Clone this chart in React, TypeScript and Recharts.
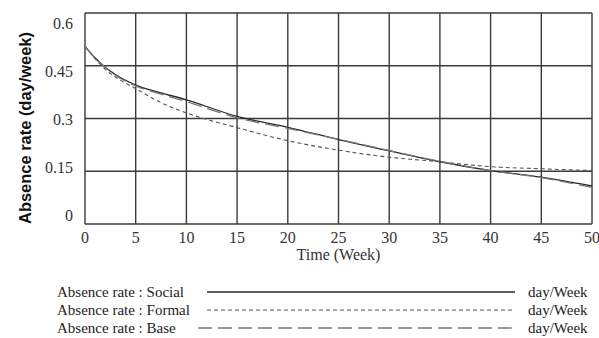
import React from "react";
import { LineChart, Line, XAxis, YAxis, CartesianGrid } from "recharts";

const weeks = [0, 1, 2, 3, 5, 7.5, 10, 15, 20, 25, 30, 35, 40, 45, 50];
const social = [0.505, 0.472, 0.446, 0.425, 0.395, 0.373, 0.353, 0.306, 0.275, 0.24, 0.208, 0.177, 0.152, 0.133, 0.108];
const formal = [0.505, 0.47, 0.44, 0.418, 0.385, 0.345, 0.316, 0.274, 0.237, 0.21, 0.19, 0.177, 0.163, 0.157, 0.152];
const base = [0.505, 0.471, 0.445, 0.423, 0.393, 0.369, 0.348, 0.302, 0.272, 0.241, 0.209, 0.178, 0.152, 0.132, 0.104];

const xTicks = [0, 5, 10, 15, 20, 25, 30, 35, 40, 45, 50];
const yTicks = [0, 0.15, 0.3, 0.45, 0.6];

const seriesList = [
  { key: "social", name: "Absence rate : Social", unit: "day/Week", stroke: "#2a2a2a", dash: undefined as string | undefined, width: 1.3 },
  { key: "formal", name: "Absence rate : Formal", unit: "day/Week", stroke: "#555", dash: "4 3", width: 1.1 },
  { key: "base", name: "Absence rate : Base", unit: "day/Week", stroke: "#777", dash: "14 6", width: 1.3 },
];

const data = weeks.map((w, i) => ({ week: w, social: social[i], formal: formal[i], base: base[i] }));

const serif = "'Liberation Serif', 'Times New Roman', serif";

const renderXTick = (props: any) => {
  const { x, y, payload } = props;
  return (
    <text x={x} y={y + 11} textAnchor="middle" style={{ fontSize: "16px" }} fill="#333">
      {String(payload.value)}
    </text>
  );
};

const renderYTick = (props: any) => {
  const { x, y, payload } = props;
  return (
    <text x={x} y={y + 5} textAnchor="end" style={{ fontSize: "16px" }} fill="#333">
      {String(payload.value)}
    </text>
  );
};

export default function App() {
  return (
    <div style={{ position: "absolute", left: 0, top: 0, width: 599, height: 338, background: "#fff" }}>
      <LineChart width={599} height={338} data={data} margin={{ top: 13, right: 7, left: 0, bottom: 0 }}>
        <CartesianGrid
          yAxisId="main"
          stroke="#3a3a3a"
          strokeWidth={1.4}
          horizontalValues={yTicks}
          verticalValues={xTicks}
        />
        <XAxis
          dataKey="week"
          type="number"
          domain={[0, 50]}
          ticks={xTicks}
          interval={0}
          tickLine={false}
          axisLine={false}
          height={114}
          tick={renderXTick}
          label={{
            content: (props: any) => {
              const vb = props.viewBox;
              return (
                <text x={vb.x + vb.width / 2} y={260} textAnchor="middle" style={{ fontFamily: serif, fontSize: 16 }} fill="#333">
                  Time (Week)
                </text>
              );
            },
          }}
        />
        <YAxis yAxisId="main" type="number" domain={[0, 0.6]} ticks={yTicks} hide width={0} />
        <YAxis
          yAxisId="labels"
          type="number"
          domain={[-0.025, 0.634375]}
          ticks={yTicks}
          interval={0}
          allowDataOverflow
          tickLine={false}
          axisLine={false}
          tickSize={0}
          tickMargin={12}
          width={85}
          tick={renderYTick}
          label={{
            content: () => (
              <text
                x={25}
                y={128}
                transform="rotate(-90 25 128)"
                textAnchor="middle"
                dominantBaseline="central"
                style={{ fontFamily: "'Liberation Sans', Arial, sans-serif", fontWeight: "bold", fontSize: 17 }}
                fill="#111"
                textLength={192}
                lengthAdjust="spacingAndGlyphs"
              >
                Absence rate (day/week)
              </text>
            ),
          }}
        />
        {seriesList.map((s) => (
          <Line
            key={s.key}
            yAxisId="main"
            dataKey={s.key}
            name={s.name}
            type="monotone"
            stroke={s.stroke}
            strokeWidth={s.width}
            strokeDasharray={s.dash}
            dot={false}
            activeDot={false}
            isAnimationActive={false}
          />
        ))}
      </LineChart>
      <svg width={599} height={60} style={{ position: "absolute", left: 0, top: 280 }}>
        {seriesList.map((s, i) => {
          const cy = 12 + i * 18;
          return (
            <g key={s.key}>
              <text x={57} y={cy + 5} style={{ fontFamily: serif, fontSize: 15 }} fill="#222">
                {s.name}
              </text>
              <line
                x1={i === 2 ? 198 : 207}
                x2={515}
                y1={cy}
                y2={cy}
                stroke={s.stroke}
                strokeWidth={s.width}
                strokeDasharray={s.dash}
              />
              <text x={528} y={cy + 5} style={{ fontFamily: serif, fontSize: 15 }} fill="#222">
                {s.unit}
              </text>
            </g>
          );
        })}
      </svg>
    </div>
  );
}
